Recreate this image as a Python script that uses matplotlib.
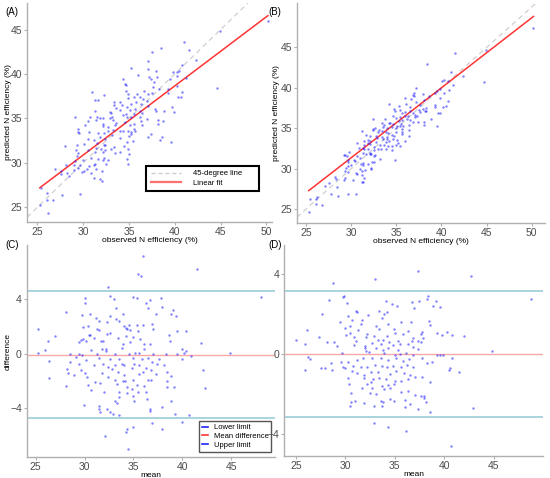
import numpy as np
import matplotlib
matplotlib.use("Agg")
import matplotlib.pyplot as plt
from matplotlib.lines import Line2D

plt.rcParams["font.family"] = ["Liberation Sans", "DejaVu Sans"]

# Bland-Altman values: mean and difference (observed - predicted)
mean_c = [35.94, 35.46, 35.8, 41.51, 32.38, 48.1, 32.62, 30.03, 34.95, 35.36, 33.0, 36.73, 36.25,
          37.82, 30.03, 28.08, 33.2, 37.96, 36.49, 39.05, 29.75, 30.57, 37.34, 38.88, 39.36, 32.66,
          33.96, 31.19, 33.2, 31.53, 33.58, 32.28, 25.27, 29.82, 30.37, 34.0, 34.26, 34.6, 35.36,
          35.94, 36.9, 31.26, 31.46, 34.37, 34.67, 35.5, 32.28, 32.62, 36.97, 38.61, 39.46, 40.38,
          27.02, 30.57, 30.5, 29.62, 29.89, 30.16, 30.98, 31.67, 33.41, 34.2, 34.95, 35.7, 26.23,
          29.41, 31.94, 33.96, 34.67, 36.04, 36.73, 38.78, 41.96, 25.92, 30.68, 31.77, 32.18, 33.79,
          36.04, 40.01, 40.38, 25.24, 28.49, 29.48, 31.26, 32.15, 33.14, 34.6, 35.19, 35.53, 36.97,
          38.33, 39.46, 40.21, 44.86, 29.1, 29.72, 28.52, 26.36, 30.16, 31.53, 32.56, 33.48, 34.95,
          35.87, 36.45, 36.9, 37.65, 40.9, 39.97, 29.41, 30.98, 31.87, 33.14, 33.85, 34.06, 35.09,
          35.56, 37.41, 38.09, 28.18, 29.65, 32.38, 32.86, 34.88, 36.32, 36.8, 28.32, 30.06, 31.84,
          33.41, 35.53, 35.94, 37.34, 38.44, 42.1, 28.93, 30.3, 32.45, 34.06, 26.33, 38.85, 33.17,
          33.99, 34.16, 34.95, 36.45, 36.8, 38.44, 31.09, 31.6, 33.31, 35.36, 28.11, 30.33, 34.33,
          34.85, 36.11, 38.44, 39.15, 42.33, 30.64, 32.04, 33.58, 34.33, 35.43, 36.32, 33.48, 34.95,
          36.39, 33.14, 38.85, 33.31, 35.09, 29.96, 31.46, 32.28, 32.62, 31.46, 32.96, 33.54, 31.6,
          36.73, 36.73, 37.96, 39.26, 40.73, 36.93, 39.97, 37.96, 34.33, 34.95, 34.2, 32.11, 34.43]
diff_c = [7.21, 5.85, 5.73, 6.22, 4.94, 4.15, 4.27, 4.12, 4.17, 4.12, 4.0, 3.95, 3.75,
          4.12, 3.70, 3.09, 3.38, 3.43, 3.33, 3.21, 2.84, 2.91, 2.89, 2.91, 2.77, 2.77,
          2.91, 2.64, 2.54, 2.44, 2.40, 2.30, 1.85, 1.98, 2.05, 2.05, 1.93, 2.10, 2.15,
          2.10, 2.17, 1.80, 1.73, 1.80, 1.78, 1.65, 1.48, 1.56, 1.80, 1.38, 1.65, 1.65,
          1.31, 1.36, 1.41, 1.04, 1.11, 0.96, 1.19, 0.96, 1.16, 1.31, 1.21, 1.11, 0.91,
          0.86, 0.94, 0.74, 0.86, 0.74, 0.69, 0.91, 0.81, 0.30, 0.25, 0.32, 0.32, 0.44,
          0.37, 0.37, 0.17, 0.05, -0.05, 0.0, 0.0, 0.17, 0.0, 0.0, 0.07, 0.02, 0.0,
          0.0, 0.0, 0.07, 0.07, -0.27, -0.12, -0.62, -0.57, -0.44, -0.32, -0.37, -0.42, -0.32,
          -0.42, -0.32, -0.62, -0.37, -0.17, -0.42, -0.74, -0.86, -0.74, -0.81, -0.74, -0.86, -0.74,
          -0.81, -0.74, -0.86, -1.11, -1.16, -1.01, -1.11, -1.06, -1.06, -1.16, -1.43, -1.41, -1.41,
          -1.36, -1.48, -1.36, -1.48, -1.31, -1.16, -1.60, -1.73, -1.73, -1.60, -1.78, -1.65, -1.90,
          -2.02, -2.02, -1.90, -1.90, -1.90, -2.02, -2.10, -2.15, -2.22, -2.27, -2.40, -2.30, -2.47,
          -2.59, -2.40, -2.47, -2.47, -2.54, -2.64, -2.79, -2.84, -2.89, -2.84, -2.79, -3.21, -3.09,
          -3.33, -3.46, -3.46, -3.63, -3.51, -3.78, -3.88, -4.07, -4.27, -4.07, -4.44, -4.52, -4.32,
          -4.07, -4.25, -3.90, -4.40, -4.49, -5.11, -4.99, -5.51, -5.51, -5.38, -5.75, -6.05, -6.99]

# Bland-Altman values
mean_d = [37.4, 42.74, 33.0, 28.72, 29.86, 29.8, 28.31, 38.41, 38.31, 39.16, 48.82, 30.14, 34.12,
          36.79, 37.5, 38.92, 39.56, 34.7, 35.24, 36.96, 31.08, 31.18, 33.41, 33.92, 34.19, 27.6,
          30.24, 32.26, 33.68, 30.71, 29.43, 31.72, 35.61, 36.62, 38.48, 30.47, 31.59, 33.11, 34.29,
          38.61, 26.15, 29.97, 31.25, 33.45, 34.97, 36.32, 37.74, 40.27, 30.47, 32.16, 35.07, 35.88,
          37.64, 39.32, 39.83, 40.84, 41.96, 30.03, 27.33, 30.88, 32.91, 34.19, 32.06, 36.89, 37.9,
          24.97, 28.1, 28.89, 31.05, 33.28, 33.85, 34.43, 35.3, 36.72, 37.33, 37.67, 25.91, 29.12,
          30.84, 31.99, 32.67, 33.61, 34.8, 35.54, 36.32, 31.99, 33.07, 33.85, 34.36, 35.37, 36.89,
          37.4, 44.83, 29.63, 32.06, 32.43, 33.95, 35.03, 35.54, 36.15, 36.89, 26.18, 26.42, 39.32,
          39.56, 39.86, 40.78, 29.56, 30.24, 31.18, 31.76, 32.67, 33.61, 34.29, 35.14, 35.81, 36.45,
          37.74, 38.28, 38.82, 28.55, 29.8, 30.74, 31.59, 32.2, 33.0, 33.68, 34.19, 34.86, 35.64,
          36.22, 36.82, 27.5, 27.94, 25.91, 28.61, 29.97, 30.71, 40.64, 40.51, 41.52, 31.15, 31.93,
          32.6, 33.34, 34.53, 35.1, 35.95, 36.55, 37.06, 30.3, 31.93, 32.77, 33.41, 34.09, 35.03,
          35.64, 36.32, 37.74, 38.61, 32.57, 30.37, 32.16, 33.75, 34.36, 34.93, 35.64, 31.72, 32.67,
          33.95, 34.53, 36.39, 30.57, 32.47, 33.07, 37.06, 37.64, 38.01, 38.01, 38.14, 30.98, 30.57,
          33.61, 33.85, 34.53, 34.97, 36.05, 36.55, 31.93, 30.47, 32.94, 33.68, 36.05, 37.33, 38.58,
          42.91, 32.94, 34.29, 36.11, 40.71]
diff_d = [4.18, 3.93, 3.75, 3.58, 2.93, 2.85, 2.72, 2.92, 2.75, 2.68, 2.75, 2.58, 2.67,
          2.63, 2.68, 2.43, 2.35, 2.52, 2.43, 2.33, 2.17, 2.10, 2.17, 2.02, 2.10, 2.02,
          1.93, 1.97, 1.83, 1.72, 1.63, 1.72, 1.63, 1.60, 1.67, 1.43, 1.50, 1.43, 1.50,
          1.47, 1.22, 1.30, 1.22, 1.27, 1.25, 1.17, 1.13, 1.13, 1.05, 1.0, 1.05, 1.02,
          1.02, 1.05, 0.97, 0.97, 0.92, 0.97, 0.88, 0.88, 0.92, 0.93, 0.88, 0.83, 0.83,
          0.72, 0.63, 0.60, 0.67, 0.72, 0.72, 0.63, 0.67, 0.67, 0.67, 0.60, 0.50, 0.43,
          0.47, 0.42, 0.55, 0.50, 0.47, 0.50, 0.50, 0.33, 0.30, 0.22, 0.30, 0.22, 0.38,
          0.25, 0.17, 0.08, 0.18, 0.13, 0.05, -0.03, 0.02, 0.05, -0.03, -0.15, -0.25, -0.03,
          -0.03, -0.03, -0.17, -0.37, -0.37, -0.28, -0.17, -0.17, -0.20, -0.28, -0.20, -0.33, -0.23,
          -0.20, -0.45, -0.37, -0.42, -0.62, -0.57, -0.62, -0.62, -0.53, -0.57, -0.62, -0.57, -0.62,
          -0.53, -0.65, -0.67, -0.67, -0.78, -0.78, -0.70, -0.83, -0.70, -0.78, -0.87, -0.95, -1.03,
          -0.90, -0.87, -1.0, -0.83, -0.95, -1.03, -1.12, -1.20, -1.17, -1.23, -1.20, -1.23, -1.33,
          -1.32, -1.25, -1.12, -1.37, -1.37, -1.50, -1.48, -1.57, -1.53, -1.50, -1.87, -1.70, -1.67,
          -1.73, -1.67, -1.83, -1.92, -1.95, -2.0, -2.03, -2.07, -2.07, -2.20, -2.37, -2.32, -2.37,
          -2.32, -2.37, -2.25, -2.33, -2.28, -2.50, -2.42, -2.58, -2.57, -2.58, -2.62, -2.75, -2.87,
          -2.70, -3.45, -3.62, -3.83, -4.57]

# linear fit coefficients (predicted = slope * observed + intercept) (A) and (B)
fit_a = (0.778, 7.54)
fit_b = (0.866, 5.37)

# Bland-Altman reference lines: lower, mean, upper
limits_c = (-4.73, -0.07, 4.58)
limits_d = (-3.15, 0.01, 3.17)

xticks_obs = [25, 30, 35, 40, 45, 50]
yticks_pred = [25, 30, 35, 40, 45]
xticks_mean = [25, 30, 35, 40, 45]
yticks_diff = [-4, 0, 4]

TICK_GREY = "#4d4d4d"
SPINE_GREY = "#b0b0b0"
DOT = (0.1, 0.1, 1.0, 0.55)


def style_axes(ax):
    for side in ["top", "right"]:
        ax.spines[side].set_visible(False)
    for side in ["left", "bottom"]:
        ax.spines[side].set_color(SPINE_GREY)
        ax.spines[side].set_linewidth(1.0)
    ax.tick_params(labelsize=7.5, labelcolor=TICK_GREY, color=SPINE_GREY,
                   length=2, width=0.8, pad=1.5)


def scatter_panel(ax, mean, diff, fit, xlim, ylim):
    mean = np.asarray(mean)
    diff = np.asarray(diff)
    observed = mean + diff / 2
    predicted = mean - diff / 2
    ax.axline((25, 25), slope=1, color="#cfcfcf", lw=0.9, ls=(0, (4, 3)), zorder=1)
    xs = np.array([observed.min(), observed.max()])
    ax.plot(xs, fit[0] * xs + fit[1], color="#ff3333", lw=1.1, zorder=2)
    ax.scatter(observed, predicted, s=3, color=DOT, linewidths=0, zorder=3)
    ax.set_xlim(*xlim)
    ax.set_ylim(*ylim)
    ax.set_xticks(xticks_obs)
    ax.set_yticks(yticks_pred)
    ax.set_xlabel("observed N efficiency (%)", fontsize=6, labelpad=0)
    ax.set_ylabel("predicted N efficiency (%)", fontsize=6, labelpad=0)
    style_axes(ax)


def ba_panel(ax, mean, diff, limits, xlim, ylim):
    lower, middle, upper = limits
    ax.axhline(upper, color="#a8d4de", lw=1.4, zorder=1)
    ax.axhline(middle, color="#f7a8a8", lw=1.0, zorder=1)
    ax.axhline(lower, color="#a8d4de", lw=1.4, zorder=1)
    ax.scatter(mean, diff, s=3, color=DOT, linewidths=0, zorder=3)
    ax.set_xlim(*xlim)
    ax.set_ylim(*ylim)
    ax.set_xticks(xticks_mean)
    ax.set_yticks(yticks_diff)
    ax.set_xlabel("mean", fontsize=6, labelpad=0)
    style_axes(ax)


fig = plt.figure(figsize=(5.5, 4.78), dpi=100)

ax_a = fig.add_axes([0.0491, 0.5356, 0.4454, 0.4582])
ax_b = fig.add_axes([0.5395, 0.5341, 0.4514, 0.4596])
ax_c = fig.add_axes([0.0485, 0.0439, 0.4515, 0.4435])
ax_d = fig.add_axes([0.5164, 0.0466, 0.4709, 0.4408])

scatter_panel(ax_a, mean_c, diff_c, fit_a, (23.87, 50.62), (23.35, 48.0))
scatter_panel(ax_b, mean_d, diff_d, fit_b, (24.0, 51.47), (23.34, 50.5))
ba_panel(ax_c, mean_c, diff_c, limits_c, (24.08, 49.5), (-7.6, 8.0))
ba_panel(ax_d, mean_d, diff_d, limits_d, (23.8, 50.0), (-5.07, 5.47))
ax_c.set_ylabel("difference", fontsize=6, labelpad=0)

ax_a.yaxis.set_label_coords(-0.061, 0.5)
ax_a.xaxis.set_label_coords(0.5, -0.068)
ax_b.yaxis.set_label_coords(-0.067, 0.5)
ax_b.xaxis.set_label_coords(0.5, -0.068)
ax_c.yaxis.set_label_coords(-0.059, 0.5)
ax_c.xaxis.set_label_coords(0.5, -0.071)
ax_d.xaxis.set_label_coords(0.5, -0.071)

# legend for (A)
handles_a = [Line2D([], [], color="#cfcfcf", lw=1.0, ls=(0, (3, 2))),
             Line2D([], [], color="#ff7070", lw=1.6)]
leg_a = ax_a.legend(handles_a, ["45-degree line      ", "Linear fit"], fontsize=5.5,
                    loc="lower left", bbox_to_anchor=(0.487, 0.14), handlelength=4.0,
                    handletextpad=1.6, borderpad=0.55, labelspacing=0.3,
                    fancybox=False, framealpha=1, borderaxespad=0)
leg_a.get_frame().set_edgecolor("black")
leg_a.get_frame().set_linewidth(1.5)

# legend for (C)
handles_c = [Line2D([], [], color="#2222ff", lw=1.2),
             Line2D([], [], color="#ff3333", lw=1.2),
             Line2D([], [], color="#2222ff", lw=1.2)]
leg_c = ax_c.legend(handles_c, ["Lower limit", "Mean difference", "Upper limit"], fontsize=5.5,
                    loc="lower right", bbox_to_anchor=(0.985, 0.025), handlelength=0.8,
                    handletextpad=0.8, borderpad=0.35, labelspacing=0.2,
                    fancybox=False, framealpha=1, borderaxespad=0)
leg_c.get_frame().set_edgecolor("#555555")
leg_c.get_frame().set_linewidth(1.0)

# panel letters
for label, (px, py) in {"(A)": (5, 12), "(B)": (268, 12),
                         "(C)": (5, 245), "(D)": (268, 245)}.items():
    fig.text(px / 550, 1 - py / 478, label, fontsize=7, ha="left", va="center")

fig.savefig("out.png", dpi=100)
